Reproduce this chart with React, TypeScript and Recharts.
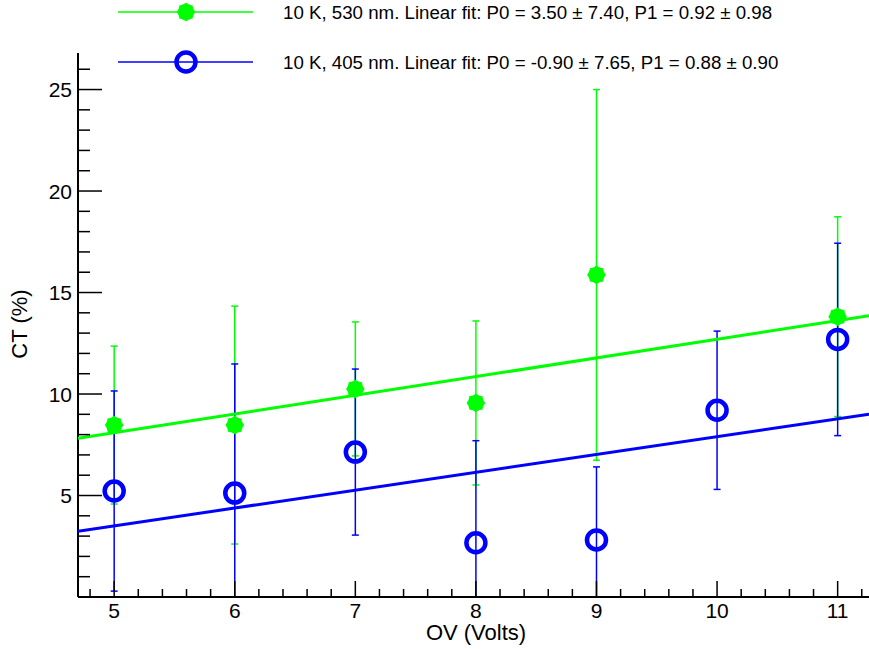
import { ComposedChart, Scatter, XAxis, YAxis, ErrorBar, Label } from "recharts";

// 10 K, 530 nm
const volts530 = [5, 6, 7, 8, 9, 11];
const ct530 = [8.47, 8.47, 10.25, 9.56, 15.87, 13.81];
const err530 = [3.89, 5.86, 3.3, 4.04, 9.13, 4.92];

// 10 K, 405 nm (lower error as far as it shows above the x axis)
const volts405 = [5, 6, 7, 8, 9, 10, 11];
const ct405 = [5.22, 5.12, 7.14, 2.67, 2.81, 9.2, 12.69];
const errUp405 = [4.93, 6.36, 4.09, 5.03, 3.6, 3.9, 4.74];
const errLow405 = [4.93, 5.12, 4.09, 2.67, 2.81, 3.9, 4.74];

// linear fits, read at the frame edges
const fitVolts = [4.7, 11.26];
const fit530 = [7.82, 13.86];
const fit405 = [3.24, 9.01];

const xTicks = [
  4.8, 5, 5.2, 5.4, 5.6, 5.8, 6, 6.2, 6.4, 6.6, 6.8, 7, 7.2, 7.4, 7.6, 7.8, 8,
  8.2, 8.4, 8.6, 8.8, 9, 9.2, 9.4, 9.6, 9.8, 10, 10.2, 10.4, 10.6, 10.8, 11,
  11.2,
];
const yTicks = [
  1, 2, 3, 4, 5, 6, 7, 8, 9, 10, 11, 12, 13, 14, 15, 16, 17, 18, 19, 20, 21,
  22, 23, 24, 25, 26,
];

const legendLabels = [
  "10 K, 530 nm. Linear fit: P0 = 3.50 \u00b1 7.40, P1 = 0.92 \u00b1 0.98",
  "10 K, 405 nm. Linear fit: P0 = -0.90 \u00b1 7.65, P1 = 0.88 \u00b1 0.90",
];

const GREEN = "#00ff00";
const BLUE = "#0000ff";
const FONT = "'Liberation Sans', Arial, Helvetica, sans-serif";

const data530 = volts530.map((x, i) => ({ x, y: ct530[i], err: err530[i] }));
const data405 = volts405.map((x, i) => ({
  x,
  y: ct405[i],
  err: [errLow405[i], errUp405[i]],
}));
const line530 = fitVolts.map((x, i) => ({ x, y: fit530[i] }));
const line405 = fitVolts.map((x, i) => ({ x, y: fit405[i] }));

const starPoints = (cx: number, cy: number) => {
  const pts: string[] = [];
  for (let i = 0; i < 16; i++) {
    const a = (i * Math.PI) / 8;
    const r = i % 2 ? 8 : 9.3;
    pts.push(`${cx + r * Math.cos(a)},${cy + r * Math.sin(a)}`);
  }
  return pts.join(" ");
};

const GreenDot = (props: any) => (
  <polygon points={starPoints(props.cx, props.cy)} fill={GREEN} />
);

const BlueRing = (props: any) => (
  <circle cx={props.cx} cy={props.cy} r={9.5} fill="none" stroke={BLUE} strokeWidth={4.5} />
);

const XTick = (props: any) => {
  const { x, y, payload } = props;
  const major = Number.isInteger(payload.value);
  return (
    <g>
      <line x1={x} y1={y} x2={x} y2={y - (major ? 16 : 8)} stroke="#000" strokeWidth={1.5} />
      {major && (
        <text x={x} y={y + 21} textAnchor="middle" fontSize={21} fontFamily={FONT} fill="#000">
          {payload.value}
        </text>
      )}
    </g>
  );
};

const YTick = (props: any) => {
  const { x, y, payload } = props;
  const major = payload.value % 5 === 0;
  return (
    <g>
      <line x1={x} y1={y} x2={x + (major ? 24 : 12)} y2={y} stroke="#000" strokeWidth={1.5} />
      {major && (
        <text x={x - 6} y={y + 7.5} textAnchor="end" fontSize={21} fontFamily={FONT} fill="#000">
          {payload.value}
        </text>
      )}
    </g>
  );
};

const LegendOverlay = () => (
  <svg
    width={869}
    height={80}
    style={{ position: "absolute", left: 0, top: 0, pointerEvents: "none" }}
  >
    <line x1={118} y1={12} x2={253} y2={12} stroke={GREEN} strokeWidth={1.5} />
    <GreenDot cx={186} cy={12} />
    <text x={283} y={19} fontSize={18.7} fontFamily={FONT} fill="#000">
      {legendLabels[0]}
    </text>
    <line x1={118} y1={62} x2={253} y2={62} stroke={BLUE} strokeWidth={1.5} />
    <BlueRing cx={186} cy={62} />
    <text x={283} y={69} fontSize={18.7} fontFamily={FONT} fill="#000">
      {legendLabels[1]}
    </text>
  </svg>
);

export default function App() {
  return (
    <div style={{ position: "absolute", left: 0, top: 0, width: 869, height: 649, background: "#fff" }}>
      <ComposedChart
        width={869}
        height={649}
        margin={{ top: 53, right: 0, bottom: 0, left: 0 }}
      >
        <XAxis
          type="number"
          dataKey="x"
          domain={[4.7, 11.26]}
          ticks={xTicks}
          interval={0}
          tickSize={0}
          tickMargin={0}
          tickLine={false}
          tick={<XTick />}
          axisLine={{ stroke: "#000", strokeWidth: 2 }}
          height={52}
          allowDataOverflow
        >
          <Label
            content={() => (
              <text x={476} y={640} textAnchor="middle" fontSize={22} fontFamily={FONT} fill="#000">
                OV (Volts)
              </text>
            )}
          />
        </XAxis>
        <YAxis
          type="number"
          dataKey="y"
          domain={[0, 26.8]}
          ticks={yTicks}
          interval={0}
          tickSize={0}
          tickMargin={0}
          tickLine={false}
          tick={<YTick />}
          axisLine={{ stroke: "#000", strokeWidth: 2 }}
          width={78}
          allowDataOverflow
        >
          <Label
            content={() => (
              <text
                transform="translate(27,324) rotate(-90)"
                textAnchor="middle"
                fontSize={22}
                fontFamily={FONT}
                fill="#000"
              >
                CT (%)
              </text>
            )}
          />
        </YAxis>
        <Scatter
          data={line530}
          fill={GREEN}
          line={{ stroke: GREEN, strokeWidth: 3 }}
          shape={() => <g />}
          isAnimationActive={false}
        />
        <Scatter
          data={line405}
          fill={BLUE}
          line={{ stroke: BLUE, strokeWidth: 3 }}
          shape={() => <g />}
          isAnimationActive={false}
        />
        <Scatter data={data530} fill={GREEN} shape={<GreenDot />} isAnimationActive={false}>
          <ErrorBar
            dataKey="err"
            direction="y"
            width={3.5}
            stroke={GREEN}
            strokeWidth={1.5}
            isAnimationActive={false}
          />
        </Scatter>
        <Scatter data={data405} fill={BLUE} shape={<BlueRing />} isAnimationActive={false}>
          <ErrorBar
            dataKey="err"
            direction="y"
            width={3.5}
            stroke={BLUE}
            strokeWidth={1.5}
            isAnimationActive={false}
          />
        </Scatter>
      </ComposedChart>
      <LegendOverlay />
    </div>
  );
}
